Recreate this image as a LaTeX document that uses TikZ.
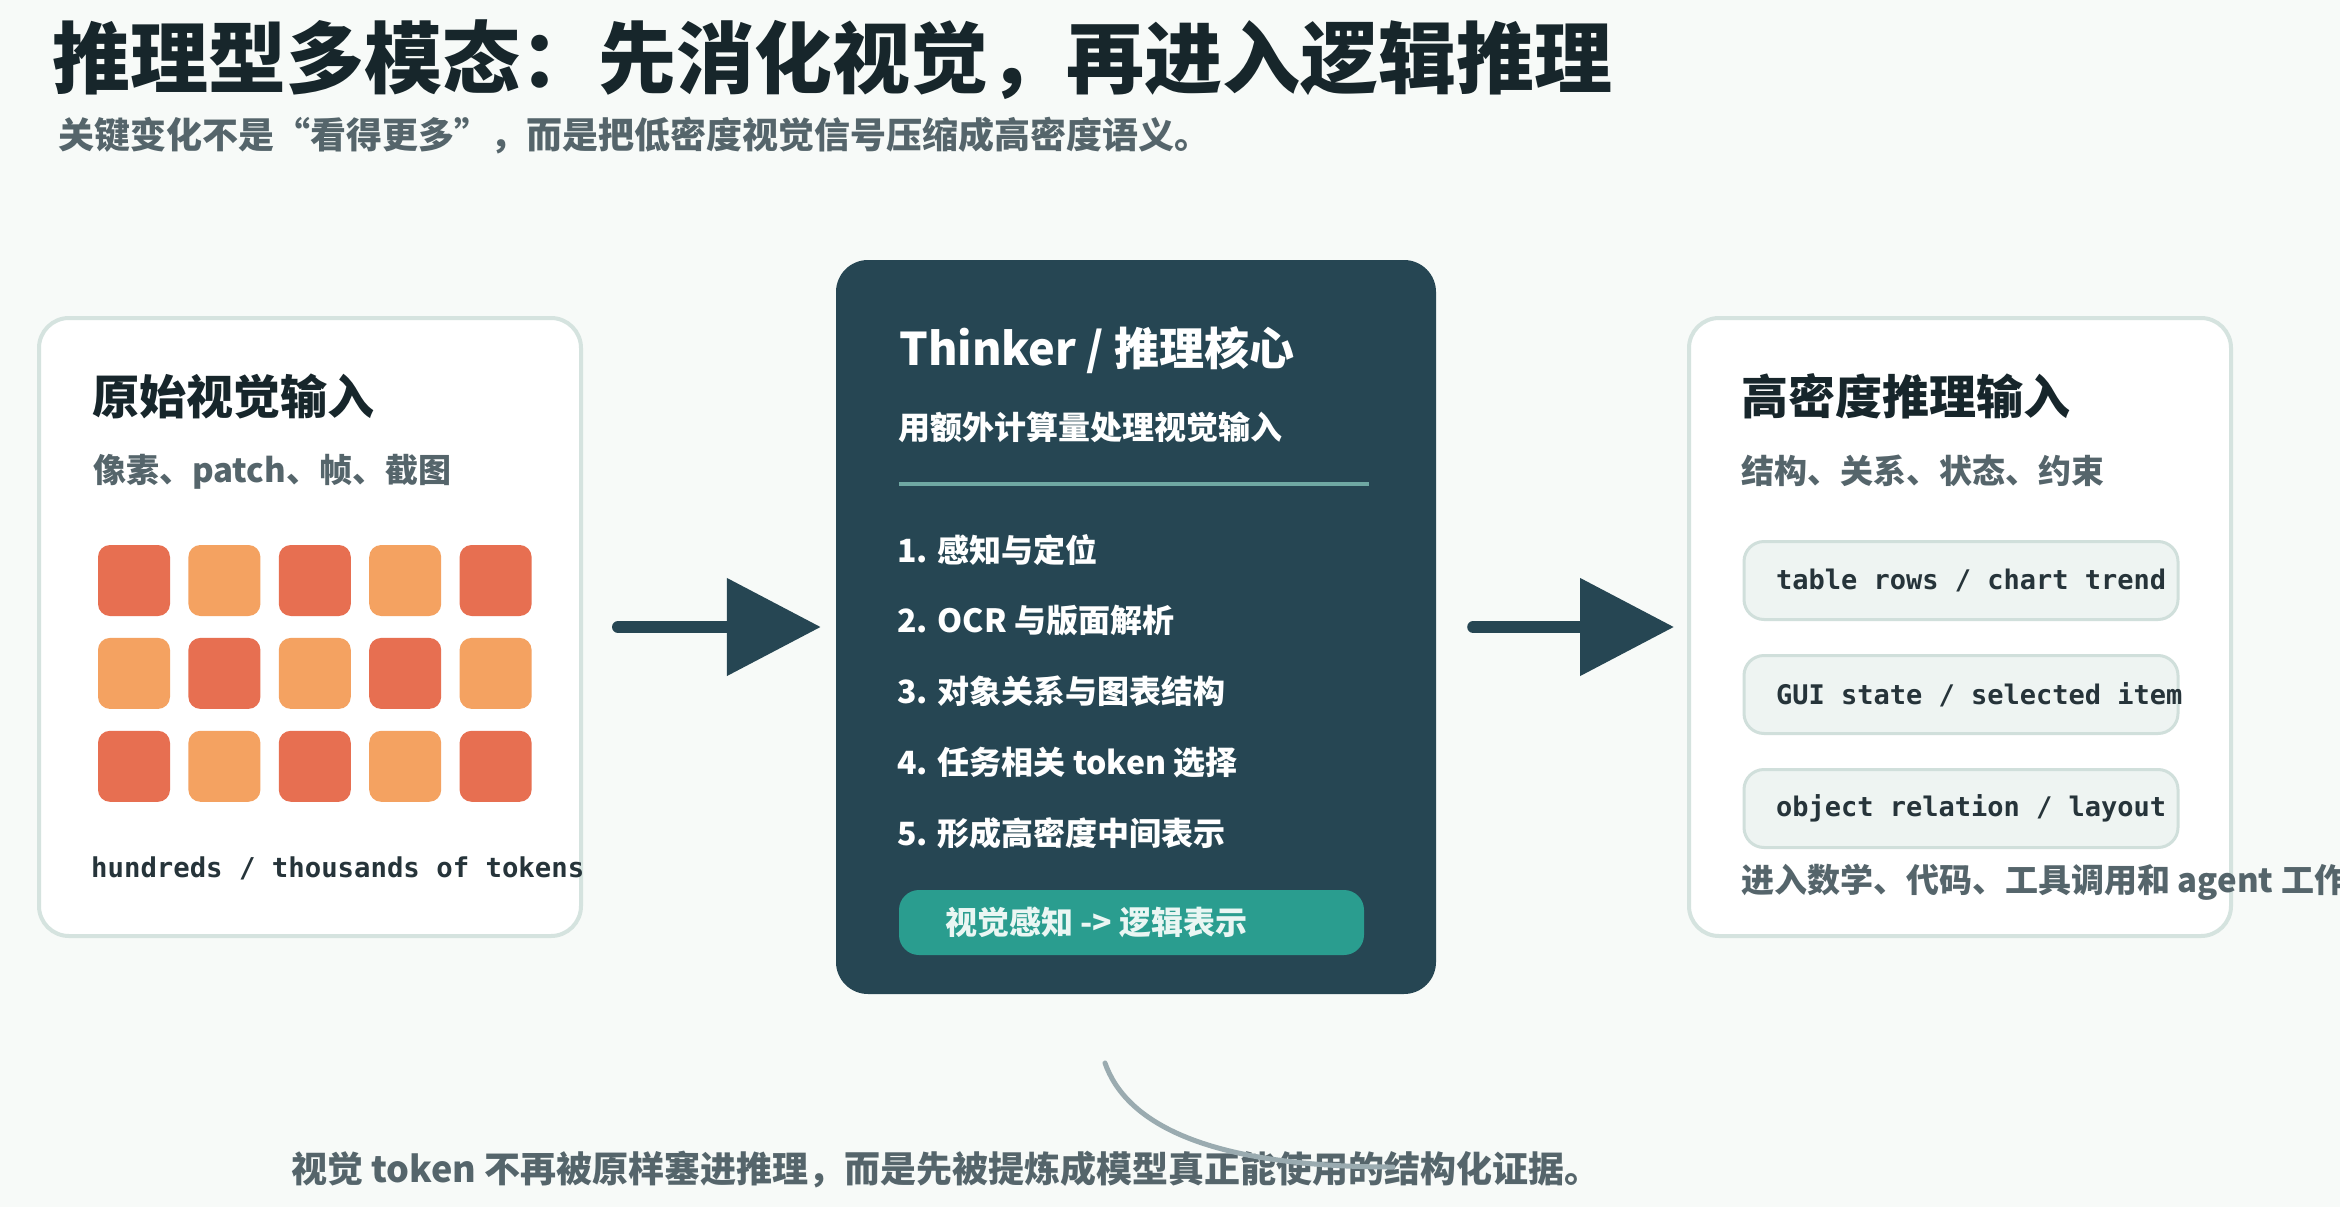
\documentclass[tikz,border=0pt]{standalone}
\usepackage{fontspec}
\usepackage{xcolor}
\setmainfont{Noto Sans CJK SC}
\setmonofont{DejaVu Sans Mono}
\newfontfamily\heavyfont{Noto Sans CJK SC Black}
\usetikzlibrary{arrows.meta,positioning}

\definecolor{bgpage}{HTML}{F7FAF8}
\definecolor{ink}{HTML}{17262B}
\definecolor{slate}{HTML}{55656B}
\definecolor{cardline}{HTML}{D5E3DF}
\definecolor{deepteal}{HTML}{264653}
\definecolor{pillteal}{HTML}{2A9D8F}
\definecolor{pilltext}{HTML}{EAF6F3}
\definecolor{divider}{HTML}{6FA8A3}
\definecolor{hotred}{HTML}{E76F51}
\definecolor{warmorange}{HTML}{F4A261}
\definecolor{chipfill}{HTML}{EEF4F2}
\definecolor{chipline}{HTML}{D0DFDB}
\definecolor{codeink}{HTML}{26343A}
\definecolor{curvegrey}{HTML}{9AABB0}

\begin{document}
\begin{tikzpicture}[
x=1pt, y=-1pt,
card/.style={draw=cardline, line width=4pt, fill=white, rounded corners=30pt, minimum width=542pt, minimum height=618pt},
core/.style={fill=deepteal, rounded corners=32pt, minimum width=600pt, minimum height=734pt},
cardtitle/.style={anchor=west, inner sep=0pt, text=ink, font=\bfseries\fontsize{47pt}{50pt}\selectfont},
cardsub/.style={anchor=west, inner sep=0pt, text=slate, font=\bfseries\fontsize{33pt}{36pt}\selectfont},
patchR/.style={fill=hotred, rounded corners=12pt, minimum width=72pt, minimum height=71pt, inner sep=0pt},
patchO/.style={patchR, fill=warmorange},
item/.style={anchor=west, inner sep=0pt, text=white, font=\bfseries\fontsize{32pt}{34pt}\selectfont},
chip/.style={draw=chipline, line width=3pt, fill=chipfill, rounded corners=20pt, minimum width=434pt, minimum height=78pt, inner xsep=32pt, inner ysep=0pt, text=codeink, font=\ttfamily\bfseries\fontsize{27pt}{30pt}\selectfont},
flow/.style={-{Triangle[length=94pt,width=95pt]}, line width=12pt, line cap=round, draw=deepteal}
]
\useasboundingbox (0,0) rectangle (2340,1207);
\fill[bgpage] (0,0) rectangle (2340,1207);

% heading
\node[anchor=west, inner sep=0pt, text=ink, font=\heavyfont\fontsize{78pt}{80pt}\selectfont] (title) at (52,60) {推理型多模态：先消化视觉，再进入逻辑推理};
\node[anchor=west, inner sep=0pt, text=slate, font=\bfseries\fontsize{36pt}{38pt}\selectfont] (subtitle) at (58,136) {关键变化不是“看得更多”，而是把低密度视觉信号压缩成高密度语义。};

% raw visual input
\node[card] (raw) at (310,627) {};
\node[cardtitle] (rawtitle) at (92,396) {原始视觉输入};
\node[cardsub] (rawsub) at (93,472) {像素、patch、帧、截图};
\node[patchR] (p11) at (134,580.5) {};
\node[patchO, right=18pt of p11] (p12) {};
\node[patchR, right=18pt of p12] (p13) {};
\node[patchO, right=18pt of p13] (p14) {};
\node[patchR, right=18pt of p14] (p15) {};
\node[patchO, below=21.5pt of p11] (p21) {};
\node[patchR, right=18pt of p21] (p22) {};
\node[patchO, right=18pt of p22] (p23) {};
\node[patchR, right=18pt of p23] (p24) {};
\node[patchO, right=18pt of p24] (p25) {};
\node[patchR, below=21.5pt of p21] (p31) {};
\node[patchO, right=18pt of p31] (p32) {};
\node[patchR, right=18pt of p32] (p33) {};
\node[patchO, right=18pt of p33] (p34) {};
\node[patchR, right=18pt of p34] (p35) {};
\node[anchor=base west, inner sep=0pt, text=codeink, font=\ttfamily\bfseries\fontsize{27.3pt}{30pt}\selectfont] (rawcount) at (91,877) {hundreds / thousands of tokens};

% thinker core
\node[core] (thinker) at (1136,627) {};
\node[anchor=west, inner sep=0pt, text=white, font=\bfseries\fontsize{45pt}{48pt}\selectfont] (coretitle) at (899,350) {Thinker / 推理核心};
\node[item] (coresub) at (898,427) {用额外计算量处理视觉输入};
\draw[divider, line width=4pt] (899,484) -- (1369,484);
\node[item] (i1) at (897,550) {1. 感知与定位};
\node[item, below=39.5pt of i1.south west, anchor=north west] (i2) {2. OCR 与版面解析};
\node[item, below=39.5pt of i2.south west, anchor=north west] (i3) {3. 对象关系与图表结构};
\node[item, below=39.5pt of i3.south west, anchor=north west] (i4) {4. 任务相关 token 选择};
\node[item, below=39.5pt of i4.south west, anchor=north west] (i5) {5. 形成高密度中间表示};
\node[fill=pillteal, rounded corners=20pt, minimum width=465pt, minimum height=65pt, inner xsep=46pt, inner ysep=0pt, text=pilltext, font=\bfseries\fontsize{32pt}{34pt}\selectfont] (pill) at (1131.5,922.5) {\makebox[373pt][l]{视觉感知 -> 逻辑表示}};

% dense reasoning input
\node[card] (dense) at (1960,627) {};
\node[cardtitle] (densetitle) at (1741,396) {高密度推理输入};
\node[cardsub] (densesub) at (1741,471) {结构、关系、状态、约束};
\node[chip] (c1) at (1961,580.5) {\makebox[370pt][l]{table rows / chart trend}};
\node[chip, below=33pt of c1] (c2) {\makebox[370pt][l]{GUI state / selected item}};
\node[chip, below=33pt of c2] (c3) {\makebox[370pt][l]{object relation / layout}};
\node[cardsub] (densenote) at (1741,882) {进入数学、代码、工具调用和 agent 工作流};

% arrows
\draw[flow, shorten <=35pt, shorten >=15pt] (raw) -- (thinker);
\draw[flow, shorten <=37pt, shorten >=13pt] (thinker) -- (dense);

% caption
\node[anchor=west, inner sep=0pt, text=slate, font=\bfseries\fontsize{36pt}{38pt}\selectfont] (caption) at (291,1170) {视觉 token 不再被原样塞进推理，而是先被提炼成模型真正能使用的结构化证据。};
\coordinate (bendtop) at (1105,1063);
\coordinate (bendend) at (1393,1167);
\draw[curvegrey, line width=5pt, line cap=round] (bendtop) .. controls (1125,1120) and (1200,1167) .. (bendend);
\end{tikzpicture}
\end{document}
